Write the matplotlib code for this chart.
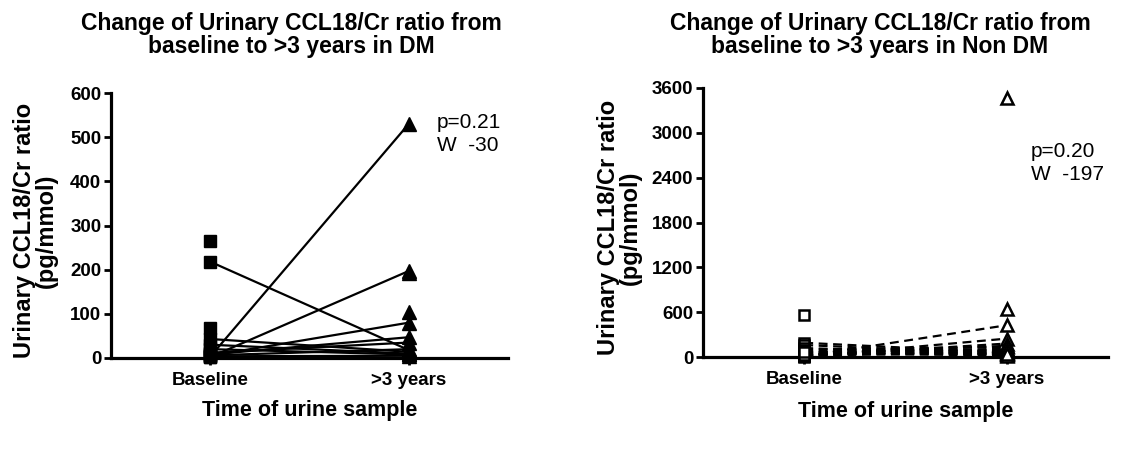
import matplotlib
matplotlib.use("Agg")
import matplotlib.pyplot as plt

plt.rcParams["font.family"] = ["Liberation Sans", "DejaVu Sans"]

CATEGORIES = ["Baseline", ">3 years"]

# DM group: paired values (baseline -> >3 years), pg/mmol
DM_BASE = [3, 218, 2, 5, 8, 43, 30, 20, 12, 6, 4]
DM_FOLLOW = [530, 18, 197, 80, 47, 14, 10, 8, 35, 20, 5]
DM_BASE_ONLY = [265, 68]
DM_FOLLOW_ONLY = [192, 105]
DM_TICKS = [0, 100, 200, 300, 400, 500, 600]

# Non DM group
NDM_BASE = [10, 5, 15, 190, 160, 120, 100, 80, 60, 40, 30, 20, 50, 25, 70]
NDM_FOLLOW = [425, 246, 180, 60, 40, 30, 134, 89, 110, 70, 150, 55, 20, 95, 35]
NDM_BASE_ONLY = [568]
NDM_FOLLOW_ONLY = [3460, 648]
NDM_TICKS = [0, 600, 1200, 1800, 2400, 3000, 3600]

TITLES = [
    "Change of Urinary CCL18/Cr ratio from\nbaseline to >3 years in DM",
    "Change of Urinary CCL18/Cr ratio from\nbaseline to >3 years in Non DM",
]
STATS = ["p=0.21\nW  -30", "p=0.20\nW  -197"]


def style_axis(ax, ticks):
    ax.set_xlim(-0.5, 1.5)
    ax.set_ylim(ticks[0], ticks[-1])
    ax.set_yticks(ticks)
    ax.set_xticks([0, 1])
    ax.set_xticklabels(CATEGORIES)
    for side in ("top", "right"):
        ax.spines[side].set_visible(False)
    for side in ("left", "bottom"):
        ax.spines[side].set_linewidth(2.3)
    ax.tick_params(axis="both", direction="out", length=5, width=2.0,
                   labelsize=13.5, pad=2)
    ax.tick_params(axis="x", pad=5)
    for lab in ax.get_xticklabels() + ax.get_yticklabels():
        lab.set_fontweight("bold")
    ax.set_ylabel("Urinary CCL18/Cr ratio\n(pg/mmol)", fontsize=17,
                  fontweight="bold", linespacing=0.95)
    ax.set_xlabel("Time of urine sample", fontsize=15.5, fontweight="bold",
                  va="top")


fig = plt.figure(figsize=(11.46, 4.5), dpi=100)

# left panel (DM)
ax1 = fig.add_axes([111 / 1146, 1 - 358 / 450, 397 / 1146, 265 / 450])
for b, f in zip(DM_BASE, DM_FOLLOW):
    ax1.plot([0, 1], [b, f], color="black", lw=1.6, zorder=2)
ax1.plot([0] * len(DM_BASE + DM_BASE_ONLY), DM_BASE + DM_BASE_ONLY,
         ls="none", marker="s", ms=8, color="black", clip_on=False, zorder=3)
ax1.plot([1] * len(DM_FOLLOW + DM_FOLLOW_ONLY), DM_FOLLOW + DM_FOLLOW_ONLY,
         ls="none", marker="^", ms=9.5, color="black", clip_on=False, zorder=3)
style_axis(ax1, DM_TICKS)
ax1.yaxis.set_label_coords(-0.134, 0.48)
ax1.xaxis.set_label_coords(0.5, -0.16)
ax1.text(1.14, 554, STATS[0], fontsize=15, va="top", ha="left",
         linespacing=1.25)

# right panel (Non DM)
ax2 = fig.add_axes([703 / 1146, 1 - 357 / 450, 405 / 1146, 269 / 450])
for b, f in zip(NDM_BASE, NDM_FOLLOW):
    ax2.plot([0, 1], [b, f], color="black", lw=1.6, ls=(0, (4, 2.5)),
             zorder=2)
ax2.plot([0] * len(NDM_BASE + NDM_BASE_ONLY), NDM_BASE + NDM_BASE_ONLY,
         ls="none", marker="s", ms=7.5, mfc="white", mec="black", mew=1.8,
         clip_on=False, zorder=3)
ax2.plot([1] * len(NDM_FOLLOW + NDM_FOLLOW_ONLY), NDM_FOLLOW + NDM_FOLLOW_ONLY,
         ls="none", marker="^", ms=8.5, mfc="white", mec="black", mew=1.8,
         clip_on=False, zorder=3)
style_axis(ax2, NDM_TICKS)
ax2.yaxis.set_label_coords(-0.15, 0.48)
ax2.xaxis.set_label_coords(0.5, -0.165)
ax2.text(1.12, 2876, STATS[1], fontsize=15, va="top", ha="left",
         linespacing=1.25)

fig.text(291 / 1146, 1 - 35 / 450, TITLES[0], ha="center", va="center",
         fontsize=16.5, fontweight="bold", linespacing=0.95)
fig.text(880 / 1146, 1 - 35 / 450, TITLES[1], ha="center", va="center",
         fontsize=16.5, fontweight="bold", linespacing=0.95)

fig.savefig("out.png", dpi=100)
